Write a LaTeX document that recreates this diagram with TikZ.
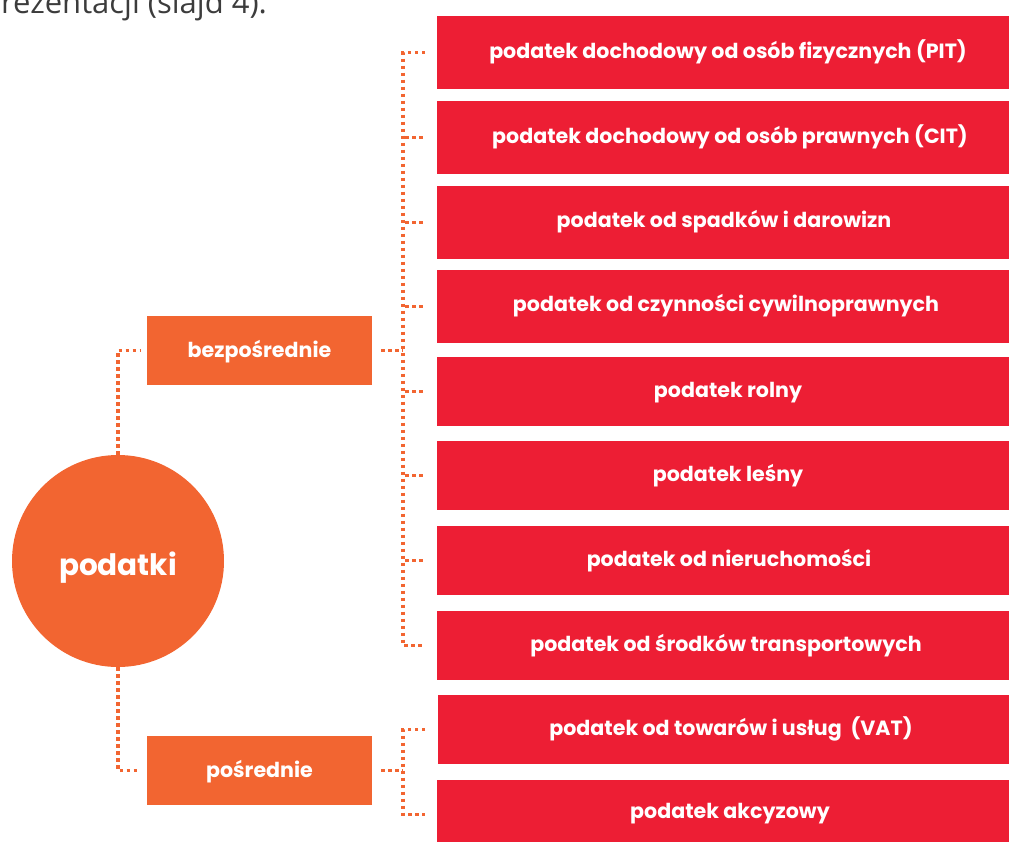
\documentclass[tikz,border=0pt]{standalone}
\usepackage{fontspec}
\setmainfont{Poppins}
\newfontfamily\headfont{Open Sans}
\definecolor{orng}{HTML}{F26531}
\definecolor{rd}{HTML}{ED1E34}
\definecolor{headgray}{HTML}{3C3C3C}
\tikzset{
  redbox/.style={fill=rd, draw=none, minimum width=582pt, minimum height=70pt, anchor=west, inner sep=0pt},
  orbox/.style={fill=orng, draw=none, minimum width=225pt, minimum height=69pt, inner sep=0pt, text=white, text height=13pt, text depth=0pt, font=\bfseries\fontsize{20.6}{23}\selectfont},
  redtxt/.style={text=white, font=\bfseries\fontsize{20.6}{23}\selectfont, anchor=center, inner sep=0pt, text height=11pt, text depth=0pt},
  dots/.style={draw=orng, line width=3.5pt, dash pattern=on 3.5pt off 3.5pt, line cap=butt}
}
\begin{document}
\begin{tikzpicture}[x=1pt,y=-1pt]
\useasboundingbox (0,0) rectangle (1009,841);
\clip (0,0) rectangle (1009,841);
% heading fragment
\node[anchor=base west, inner sep=0pt, text=headgray, font=\headfont\fontsize{31}{34}\selectfont] (head) at (1,13) {rezentacji (slajd 4).};
% red boxes
\node[redbox, minimum height=73pt] (r1) at (437,52.5) {};
\node[redbox, minimum height=73pt] (r2) at (437,137.5) {};
\node[redbox, minimum height=73pt] (r3) at (437,222.5) {};
\node[redbox, minimum height=73pt] (r4) at (437,306.5) {};
\node[redbox, minimum height=69pt] (r5) at (437,391.5) {};
\node[redbox, minimum height=69pt] (r6) at (437,475.5) {};
\node[redbox, minimum height=69pt] (r7) at (437,560.5) {};
\node[redbox, minimum height=69pt] (r8) at (437,645.5) {};
\node[redbox, minimum height=69pt] (r9) at (438,729.5) {};
\node[redbox, minimum height=69pt] (r10) at (437,814.5) {};
\node[redtxt] (t1) at (728,53) {podatek dochodowy od osób fizycznych (PIT)};
\node[redtxt] (t2) at (730,137.5) {podatek dochodowy od osób prawnych (CIT)};
\node[redtxt] (t3) at (724,221.5) {podatek od spadków i darowizn};
\node[redtxt] (t4) at (726,305.5) {podatek od czynności cywilnoprawnych};
\node[redtxt] (t5) at (728,391.5) {podatek rolny};
\node[redtxt] (t6) at (728,475.5) {podatek leśny};
\node[redtxt] (t7) at (729,560.5) {podatek od nieruchomości};
\node[redtxt] (t8) at (726,645.5) {podatek od środków transportowych};
\node[redtxt] (t9) at (731,730) {podatek od towarów i usług\ \ (VAT)};
\node[redtxt] (t10) at (730,812.5) {podatek akcyzowy};
% orange boxes
\node[orbox] (b) at (259.5,350.5) {bezpośrednie};
\node[orbox] (p) at (259.5,770.5) {pośrednie};
% circle
\node[circle, fill=orng, minimum size=212pt, inner sep=0pt, text=white, text height=28pt, text depth=0pt, font=\bfseries\fontsize{29.5}{32}\selectfont] (root) at (118,561) {podatki};
% connectors left
\draw[dots] (root.north) |- ([xshift=-7pt]b.west);
\draw[dots] (root.south) |- ([xshift=-7pt]p.west);
% bracket for bezposrednie
\coordinate (bj) at (403,350.5);
\draw[dots] ([xshift=9pt]b.east) -- (bj);
\draw[dots] ([xshift=-12pt]r1.west) -- (bj |- r1.west) -- (bj |- r8.west) -- ([xshift=-12pt]r8.west);
\foreach \i in {2,...,7}{
  \draw[dots] (bj |- r\i.west) ++(2pt,0) -- ([xshift=-12pt]r\i.west);
}
% bracket for posrednie
\coordinate (pj) at (403,770.5);
\draw[dots] ([xshift=9pt]p.east) -- (pj);
\draw[dots] ([xshift=-13pt]r9.west) -- (pj |- r9.west) -- (pj |- r10.west) -- ([xshift=-12pt]r10.west);
\end{tikzpicture}
\end{document}
